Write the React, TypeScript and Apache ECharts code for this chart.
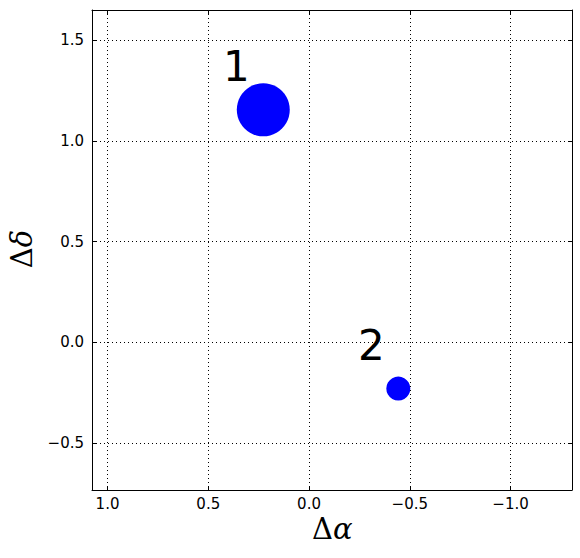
import React, { useEffect, useRef } from "react";
import * as echarts from "echarts";

const pointX = [0.227, -0.443];
const pointY = [1.154, -0.229];
const pointSizes = [53, 24];
const pointLabels = ["1", "2"];
const xRange = [-1.305, 1.077];
const yRange = [-0.732, 1.649];

const fmt = (v: number) => v.toFixed(1).replace("-", "\u2212");

export default function App() {
  const ref = useRef<HTMLDivElement>(null);
  useEffect(() => {
    if (!ref.current) return;
    const chart = echarts.init(ref.current, null, { renderer: "svg" });
    const axisLine = { show: true, onZero: false, lineStyle: { color: "#000", width: 1 } };
    const tick = { show: true, inside: true, length: 4, lineStyle: { color: "#000", width: 1 } };
    const grid = { show: true, lineStyle: { color: "#000", width: 1, type: [1, 3] as any } };
    const label = {
      show: true,
      color: "#000",
      fontSize: 15,
      fontFamily: "DejaVu Sans",
      showMinLabel: false,
      showMaxLabel: false,
      formatter: (v: number) => fmt(v),
    };
    chart.setOption({
      animation: false,
      backgroundColor: "#fff",
      grid: { left: 92, right: 8, top: 10, bottom: 68 },
      xAxis: [
        {
          type: "value",
          min: xRange[0],
          max: xRange[1],
          inverse: true,
          splitNumber: 5,
          position: "bottom",
          axisLine,
          axisTick: tick,
          splitLine: grid,
          axisLabel: { ...label, margin: 6 },
        },
        {
          type: "value",
          min: xRange[0],
          max: xRange[1],
          inverse: true,
          splitNumber: 5,
          position: "top",
          axisLine,
          axisTick: tick,
          splitLine: { show: false },
          axisLabel: { show: false },
        },
      ],
      yAxis: [
        {
          type: "value",
          min: yRange[0],
          max: yRange[1],
          splitNumber: 5,
          position: "left",
          axisLine,
          axisTick: tick,
          splitLine: grid,
          axisLabel: { ...label, margin: 8 },
        },
        {
          type: "value",
          min: yRange[0],
          max: yRange[1],
          splitNumber: 5,
          position: "right",
          axisLine,
          axisTick: tick,
          splitLine: { show: false },
          axisLabel: { show: false },
        },
      ],
      series: [
        {
          type: "scatter",
          xAxisIndex: 0,
          yAxisIndex: 0,
          data: pointX.map((x, i) => ({
            value: [x, pointY[i]],
            symbolSize: pointSizes[i],
            name: pointLabels[i],
          })),
          itemStyle: { color: "#0000ff", opacity: 1 },
          label: {
            show: true,
            position: "inside",
            offset: [-27, -43],
            formatter: (p: any) => p.name,
            color: "#000",
            fontSize: 42,
            fontFamily: "DejaVu Sans",
          },
        },
      ],
      graphic: [
        {
          type: "text",
          left: 312,
          top: 514,
          style: {
            text: "{a|\u0394}{b|\u03b1}",
            rich: {
              a: { fontSize: 29, fontFamily: "DejaVu Serif", fill: "#000" },
              b: { fontSize: 29, fontFamily: "DejaVu Serif", fontStyle: "italic", fill: "#000" },
            },
          },
        },
        {
          type: "text",
          x: 22,
          y: 249,
          rotation: Math.PI / 2,
          style: {
            text: "{a|\u0394}{b|\u03b4}",
            align: "center",
            verticalAlign: "middle",
            rich: {
              a: { fontSize: 29, fontFamily: "DejaVu Serif", fill: "#000" },
              b: { fontSize: 29, fontFamily: "DejaVu Serif", fontStyle: "italic", fill: "#000" },
            },
          },
        },
      ],
    });
    return () => chart.dispose();
  }, []);
  return (
    <div
      ref={ref}
      style={{ position: "fixed", left: 0, top: 0, width: 580, height: 558 }}
    />
  );
}
